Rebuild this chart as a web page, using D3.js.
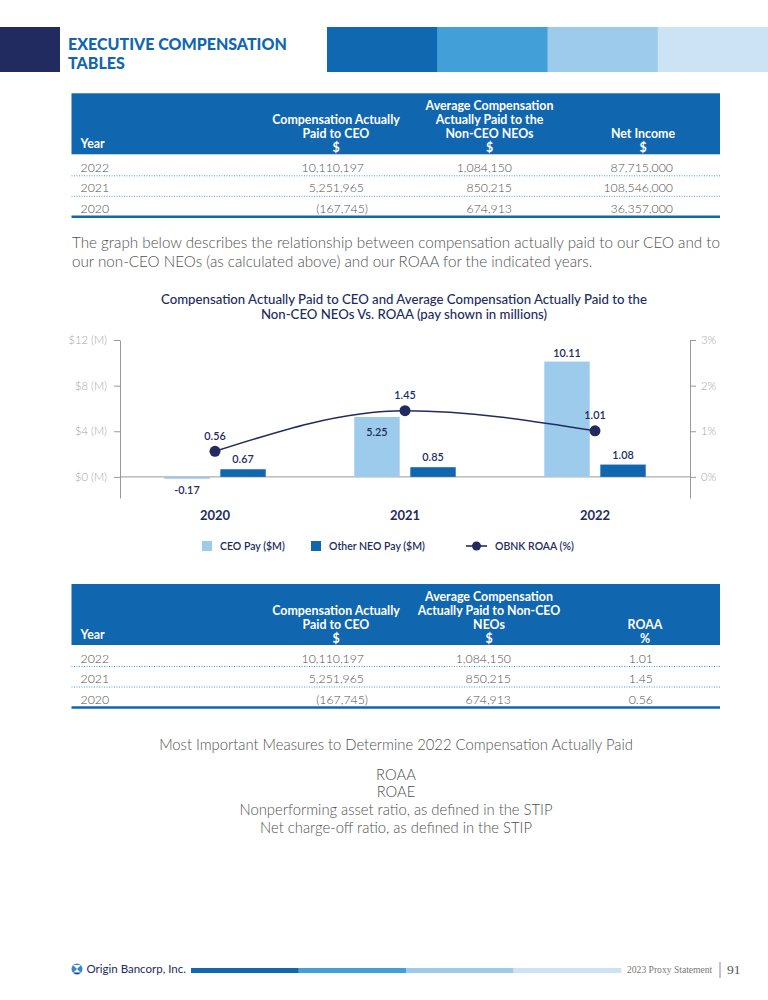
<!DOCTYPE html>
<html><head><meta charset="utf-8">
<script src="https://cdn.jsdelivr.net/npm/d3@7"></script>
<style>
html,body{margin:0;padding:0;background:#fff;}
svg{display:block;font-family:Lato,"Open Sans",sans-serif;}
</style></head><body>
<svg id="page" width="768" height="1000"></svg>
<script>
// ---------- data ----------
const years = ["2020", "2021", "2022"];
const ceoPay = [-0.17, 5.25, 10.11];
const neoPay = [0.67, 0.85, 1.08];
const roaa = [0.56, 1.45, 1.01];
const ceoLabelPlacement = ["below", "inside", "above"];
const payTicks = [0, 4, 8, 12];
const roaaTicks = [0, 1, 2, 3];
const seriesNames = ["CEO Pay ($M)", "Other NEO Pay ($M)", "OBNK ROAA (%)"];

const tableYears = ["2022", "2021", "2020"];
const capCeo = ["10,110,197", "5,251,965", "(167,745)"];
const capNeo = ["1,084,150", "850,215", "674,913"];
const netIncome = ["87,715,000", "108,546,000", "36,357,000"];
const roaaPct = ["1.01", "1.45", "0.56"];
const measures = ["ROAA", "ROAE", "Nonperforming asset ratio, as defined in the STIP", "Net charge-off ratio, as defined in the STIP"];
const bandColors = ["#1068b0", "#429fd8", "#9dcbec", "#cce3f5"];

// ---------- styles ----------
const navy = "#222b5f", blue = "#1166b0", light = "#9dcbec";
const textGray = "#505050";

const svg = d3.select("#page");
svg.append("rect").attr("width", 768).attr("height", 1000).attr("fill", "#fff");

// ---------- page header ----------
svg.append("rect").attr("x", 0).attr("y", 27).attr("width", 60).attr("height", 45).attr("fill", navy);
const hdrBand = d3.scaleBand().domain(d3.range(bandColors.length)).range([327, 768]);
bandColors.forEach((c, i) => svg.append("rect").attr("x", hdrBand(i)).attr("y", 27)
  .attr("width", hdrBand.bandwidth() + 0.5).attr("height", 45).attr("fill", c));
svg.append("text").attr("x", 68).attr("y", 50).attr("fill", blue).attr("font-size", 16)
  .attr("font-weight", 900).text("EXECUTIVE COMPENSATION");
svg.append("text").attr("x", 68).attr("y", 68.5).attr("fill", blue).attr("font-size", 16)
  .attr("font-weight", 900).text("TABLES");

// ---------- tables ----------
function drawTable(top, columns) {
  const g = svg.append("g");
  const L = 71.5, R = 720;
  g.append("rect").attr("x", L).attr("y", top).attr("width", R - L).attr("height", 61).attr("fill", blue);
  g.append("text").attr("x", 80.5).attr("y", top + 54.5).attr("fill", "#fff")
    .attr("font-size", 12.4).attr("font-weight", 700).text("Year");
  columns.forEach(col => {
    const n = col.head.length;
    col.head.forEach((t, i) => {
      g.append("text").attr("x", col.cx).attr("y", top + 58.5 - (n - 1 - i) * 14)
        .attr("text-anchor", "middle").attr("fill", "#fff")
        .attr("font-size", 12.4).attr("font-weight", 700).text(t);
    });
  });
  const rowC = [74, 94.5, 115].map(d => d + top);
  tableYears.forEach((yr, r) => {
    g.append("text").attr("x", 80.5).attr("y", rowC[r] + 4.5).attr("fill", textGray)
      .attr("font-size", 12.3).attr("font-weight", 300).text(yr);
    columns.forEach(col => {
      const v = col.values[r];
      const hang = v.endsWith(")") ? 4 : 0;
      g.append("text").attr("x", col.right + hang).attr("y", rowC[r] + 4.5)
        .attr("text-anchor", "end").attr("fill", textGray)
        .attr("font-size", 12.3).attr("font-weight", 300).text(v);
    });
  });
  [82.5, 103].forEach(d => g.append("line").attr("x1", L).attr("x2", R)
    .attr("y1", top + d).attr("y2", top + d).attr("stroke", "#4c9fd8")
    .attr("stroke-width", 1).attr("stroke-dasharray", "1,1.5"));
  g.append("line").attr("x1", L).attr("x2", R).attr("y1", top + 123.5).attr("y2", top + 123.5)
    .attr("stroke", blue).attr("stroke-width", 2.5);
}

drawTable(93.3, [
  { cx: 336, right: 364, head: ["Compensation Actually", "Paid to CEO", "$"], values: capCeo },
  { cx: 489.5, right: 512, head: ["Average Compensation", "Actually Paid to the", "Non-CEO NEOs", "$"], values: capNeo },
  { cx: 643, right: 673, head: ["Net Income", "$"], values: netIncome }
]);

// paragraph
svg.append("text").attr("x", 72).attr("y", 247.5).attr("fill", textGray).attr("font-size", 15.2)
  .attr("font-weight", 300).attr("textLength", 648).attr("lengthAdjust", "spacing")
  .text("The graph below describes the relationship between compensation actually paid to our CEO and to");
svg.append("text").attr("x", 72).attr("y", 266.5).attr("fill", textGray).attr("font-size", 15.2)
  .attr("font-weight", 300)
  .text("our non-CEO NEOs (as calculated above) and our ROAA for the indicated years.");

// ---------- chart ----------
const chart = svg.append("g");
const title = ["Compensation Actually Paid to CEO and Average Compensation Actually Paid to the",
               "Non-CEO NEOs Vs. ROAA (pay shown in millions)"];
title.forEach((t, i) => chart.append("text").attr("x", 404).attr("y", 303.5 + i * 15)
  .attr("text-anchor", "middle").attr("fill", navy).attr("font-size", 13.2)
  .attr("font-weight", 500).text(t));

const x0 = d3.scaleBand().domain(years).range([120, 690]);
const x1 = d3.scaleBand().domain(["ceo", "neo"]).range([0, x0.bandwidth()])
  .paddingInner(0.19).paddingOuter(0.79);
const y = d3.scaleLinear().domain([-1.85, 12]).range([498, 340]);
const yR = d3.scaleLinear().domain([-1.85 / 4, 3]).range([498, 340]);

function styleAxis(g) {
  g.attr("font-family", "Lato, 'Open Sans', sans-serif").attr("font-size", 11.2);
  g.selectAll("path.domain").attr("stroke", "#9a9a9a");
  g.selectAll(".tick line").attr("stroke", "#9a9a9a");
  g.selectAll(".tick text").attr("fill", "#a5a5a5").attr("font-weight", 300);
}
chart.append("g").attr("transform", "translate(120,0)")
  .call(d3.axisLeft(y).tickValues(payTicks).tickFormat(d => `$${d} (M)`)
    .tickSize(6).tickSizeOuter(0).tickPadding(7)).call(styleAxis);
chart.append("g").attr("transform", "translate(690,0)")
  .call(d3.axisRight(yR).tickValues(roaaTicks).tickFormat(d => `${d}%`)
    .tickSize(6).tickSizeOuter(0).tickPadding(5)).call(styleAxis);

chart.append("line").attr("x1", 120).attr("x2", 690).attr("y1", y(0)).attr("y2", y(0))
  .attr("stroke", "#9a9a9a");

// bars
years.forEach((yr, i) => {
  const bx = x0(yr);
  [["ceo", ceoPay[i], light], ["neo", neoPay[i], blue]].forEach(([k, v, c]) => {
    chart.append("rect").attr("x", bx + x1(k)).attr("width", x1.bandwidth())
      .attr("y", y(Math.max(0, v))).attr("height", Math.abs(y(v) - y(0)))
      .attr("fill", c);
  });
});

// line
const cx = yr => x0(yr) + x0.bandwidth() / 2;
chart.append("path").datum(roaa)
  .attr("d", d3.line().x((d, i) => cx(years[i])).y(d => yR(d)).curve(d3.curveMonotoneX))
  .attr("fill", "none").attr("stroke", navy).attr("stroke-width", 1.6);
chart.selectAll("circle.pt").data(roaa).enter().append("circle")
  .attr("cx", (d, i) => cx(years[i])).attr("cy", d => yR(d)).attr("r", 5.5).attr("fill", navy);

// labels
function lab(xp, yc, t) {
  chart.append("text").attr("x", xp).attr("y", yc + 4).attr("text-anchor", "middle")
    .attr("fill", navy).attr("font-size", 10.8).attr("font-weight", 600).text(t);
}
years.forEach((yr, i) => {
  const v = ceoPay[i];
  const bxc = x0(yr) + x1("ceo") + x1.bandwidth() / 2;
  const p = ceoLabelPlacement[i];
  const yc = p === "below" ? y(v) + 11 : p === "inside" ? y(v) + 15 : y(v) - 9;
  lab(bxc, yc, v.toFixed(2));
  const nxc = x0(yr) + x1("neo") + x1.bandwidth() / 2;
  lab(nxc, y(neoPay[i]) - 10, neoPay[i].toFixed(2));
  lab(cx(yr), yR(roaa[i]) - 15.5, roaa[i].toFixed(2));
});

// year labels
years.forEach(yr => chart.append("text").attr("x", cx(yr)).attr("y", 519.5)
  .attr("text-anchor", "middle").attr("fill", navy).attr("font-size", 13)
  .attr("font-weight", 700).text(yr));

// legend
const lg = chart.append("g").attr("font-size", 10.5).attr("fill", navy).attr("font-weight", 600);
lg.append("rect").attr("x", 202).attr("y", 541).attr("width", 10).attr("height", 10).attr("fill", light);
lg.append("text").attr("x", 220).attr("y", 549.5).text(seriesNames[0]);
lg.append("rect").attr("x", 311).attr("y", 541).attr("width", 10).attr("height", 10).attr("fill", blue);
lg.append("text").attr("x", 329).attr("y", 549.5).text(seriesNames[1]);
lg.append("line").attr("x1", 466).attr("x2", 487).attr("y1", 546).attr("y2", 546)
  .attr("stroke", navy).attr("stroke-width", 1.6);
lg.append("circle").attr("cx", 476.5).attr("cy", 546).attr("r", 4.5).attr("fill", navy);
lg.append("text").attr("x", 495).attr("y", 549.5).text(seriesNames[2]);

// ---------- second table ----------
drawTable(584, [
  { cx: 336, right: 364, head: ["Compensation Actually", "Paid to CEO", "$"], values: capCeo },
  { cx: 489, right: 511, head: ["Average Compensation", "Actually Paid to Non-CEO", "NEOs", "$"], values: capNeo },
  { cx: 645, right: 653, head: ["ROAA", "%"], values: roaaPct }
]);

// ---------- measures ----------
svg.append("text").attr("x", 396).attr("y", 750).attr("text-anchor", "middle")
  .attr("fill", textGray).attr("font-size", 14.8).attr("font-weight", 300)
  .text("Most Important Measures to Determine 2022 Compensation Actually Paid");
measures.forEach((m, i) => svg.append("text").attr("x", 396).attr("y", 779.5 + i * 17.8)
  .attr("text-anchor", "middle").attr("fill", textGray).attr("font-size", 14.8)
  .attr("font-weight", 300).text(m));

// ---------- footer ----------
const ft = svg.append("g");
ft.append("circle").attr("cx", 77).attr("cy", 969).attr("r", 5.5).attr("fill", "#3a86c8");
ft.append("path").attr("d", "M73,965 L81,965 L77,969 Z M73,973 L81,973 L77,969 Z").attr("fill", "#fff");
ft.append("path").attr("d", "M73.5,972.5 L80.5,972.5 A5.5,5.5 0 0 1 73.5,972.5 Z").attr("fill", navy);
ft.append("text").attr("x", 86.5).attr("y", 973).attr("fill", navy).attr("font-size", 11.5)
  .text("Origin Bancorp, Inc.");
const ftBand = d3.scaleBand().domain(d3.range(bandColors.length)).range([191, 621]);
bandColors.forEach((c, i) => ft.append("rect").attr("x", ftBand(i)).attr("y", 968)
  .attr("width", ftBand.bandwidth() + 0.3).attr("height", 5).attr("fill", c));
ft.append("text").attr("x", 627).attr("y", 973).attr("fill", "#777")
  .attr("font-family", "'Liberation Serif', 'DejaVu Serif', serif").attr("font-size", 9.6)
  .text("2023 Proxy Statement");
ft.append("line").attr("x1", 720).attr("x2", 720).attr("y1", 962).attr("y2", 978)
  .attr("stroke", "#888").attr("stroke-width", 1);
ft.append("text").attr("x", 727).attr("y", 974).attr("fill", "#555")
  .attr("font-family", "'Liberation Serif', 'DejaVu Serif', serif").attr("font-size", 13.5)
  .text("91");
</script>
</body></html>
